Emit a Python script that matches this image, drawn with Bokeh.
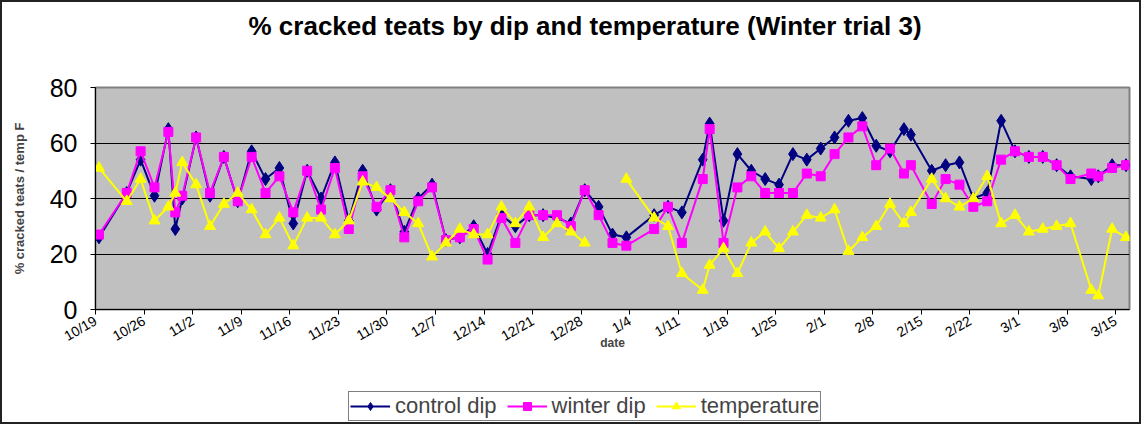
import math
import pandas as pd
from bokeh.plotting import figure
from bokeh.layouts import column
from bokeh.models import ColumnDataSource, Range1d, FixedTicker, Legend, LegendItem
from bokeh.embed import file_html
from bokeh.resources import INLINE

FONT = "Liberation Sans"

# ---- data ----
dates = ["10/19", "10/23", "10/25", "10/27", "10/29", "10/30", "10/31", "11/2", "11/4", "11/6",
         "11/8", "11/10", "11/12", "11/14", "11/16", "11/18", "11/20", "11/22", "11/24", "11/26",
         "11/28", "11/30", "12/2", "12/4", "12/6", "12/8", "12/10", "12/12", "12/14", "12/16",
         "12/18", "12/20", "12/22", "12/24", "12/26", "12/28", "12/30", "1/1", "1/3", "1/7",
         "1/9", "1/11", "1/14", "1/15", "1/17", "1/19", "1/21", "1/23", "1/25", "1/27",
         "1/29", "1/31", "2/2", "2/4", "2/6", "2/8", "2/10", "2/12", "2/13", "2/16",
         "2/18", "2/20", "2/22", "2/24", "2/26", "2/28", "3/2", "3/4", "3/6", "3/8",
         "3/11", "3/12", "3/14", "3/16"]

control_dip = [26, 42, 54, 41, 65, 29, 40, 62, 41, 55,
               39, 57, 47, 51, 31, 50, 40, 53, 32, 50,
               36, 43, 28, 40, 45, 25, 26, 30, 20, 34,
               30, 34, 34, 33, 31, 43, 37, 27, 26, 34,
               37, 35, 54, 67, 32, 56, 50, 47, 45, 56,
               54, 58, 62, 68, 69, 59, 57, 65, 63, 50,
               52, 53, 40, 42, 68, 57, 55, 55, 52, 48,
               47, 48, 52, 52]

winter_dip = [27, 42, 57, 44, 64, 35, 41, 62, 42, 55,
              39, 55, 42, 48, 35, 50, 36, 51, 29, 48,
              37, 43, 26, 39, 44, 25, 26, 29, 18, 33,
              24, 34, 34, 34, 30, 43, 34, 24, 23, 29,
              37, 24, 47, 65, 24, 44, 48, 42, 42, 42,
              49, 48, 56, 62, 66, 52, 58, 49, 52, 38,
              47, 45, 37, 39, 54, 57, 55, 55, 52, 47,
              49, 48, 51, 52]

NaN = float("nan")
temperature = [51, 39, 47, 32, 37, 42, 53, 45, 30, 38,
               42, 36, 27, 33, 23, 33, 33, 27, 32, 46,
               44, 40, 35, 31, 19, 24, 29, 27, 27, 37,
               31, 37, 26, 31, 28, 24, NaN, NaN, 47, 33,
               30, 13, 7, 16, 22, 13, 24, 28, 22, 28,
               34, 33, 36, 21, 26, 30, 38, 31, 35, 47,
               40, 37, 40, 48, 31, 34, 28, 29, 30, 31,
               7, 5, 29, 26]

tick_labels = ["10/19", "10/26", "11/2", "11/9", "11/16", "11/23", "11/30", "12/7", "12/14",
               "12/21", "12/28", "1/4", "1/11", "1/18", "1/25", "2/1", "2/8", "2/15", "2/22",
               "3/1", "3/8", "3/15"]
y_ticks = [0, 20, 40, 60, 80]

title_text = "% cracked teats by dip and temperature (Winter trial 3)"
series_names = ["control dip", "winter dip", "temperature"]
series_colors = ["#000080", "#FF00FF", "#FFFF00"]
series_markers = ["diamond", "square", "triangle"]
marker_sizes = [13, 9, 11]


def to_date(md):
    m, d = (int(v) for v in md.split("/"))
    return pd.Timestamp(2005 if m >= 10 else 2006, m, d)


start = to_date(dates[0])
# each day is a slot; points sit in the middle of their day slot
xpos = [(to_date(s) - start).days + 0.5 for s in dates]
tick_pos = [(to_date(s) - start).days for s in tick_labels]
last_day = (to_date(dates[-1]) - start).days + 1

src = ColumnDataSource(dict(x=xpos, c=control_dip, w=winter_dip, t=temperature))

W = 1137

# ---------------- title strip ----------------
pt = figure(width=W, height=49, x_range=Range1d(0, 1), y_range=Range1d(0, 1),
            x_axis_type=None, y_axis_type=None, output_backend="svg", toolbar_location=None,
            min_border=0, border_fill_color="white", background_fill_color="white")
pt.outline_line_color = None
pt.grid.visible = False
pt.title.text = title_text
pt.title.align = "left"
pt.title.offset = 153
pt.title.standoff = 12
pt.title.vertical_align = "bottom"
pt.title.text_font = FONT
pt.title.text_font_size = "26px"
pt.title.text_font_style = "bold"
pt.title.text_color = "black"

# ---------------- main chart ----------------
p = figure(width=W, height=309, x_range=Range1d(0, last_day), y_range=Range1d(0, 80),
           output_backend="svg", toolbar_location=None,
           min_border_left=93, min_border_right=10, min_border_top=36, min_border_bottom=51,
           background_fill_color="#C0C0C0", border_fill_color="white")
p.outline_line_color = "#808080"
p.outline_line_width = 2

p.xaxis.ticker = FixedTicker(ticks=tick_pos)
p.xaxis.major_label_overrides = {tp: lbl for tp, lbl in zip(tick_pos, tick_labels)}
p.xaxis.major_label_orientation = math.pi / 6
p.xaxis.major_label_text_font = FONT
p.xaxis.major_label_text_font_size = "14px"
p.xaxis.major_label_text_color = "black"
p.xaxis.major_tick_in = 0
p.xaxis.major_tick_out = 5
p.xaxis.minor_tick_line_color = None
p.xaxis.axis_line_color = "black"
p.xaxis.major_label_standoff = 5
p.xaxis.axis_label = "date"
p.xaxis.axis_label_text_font = FONT
p.xaxis.axis_label_text_font_size = "12px"
p.xaxis.axis_label_text_font_style = "bold"
p.xaxis.axis_label_standoff = -18

p.yaxis.ticker = FixedTicker(ticks=y_ticks)
p.yaxis.major_label_text_font = FONT
p.yaxis.major_label_text_font_size = "25px"
p.yaxis.major_label_text_color = "black"
p.yaxis.major_tick_in = 0
p.yaxis.major_tick_out = 5
p.yaxis.minor_tick_line_color = None
p.yaxis.axis_line_color = "black"
p.yaxis.major_label_standoff = 13
p.yaxis.axis_label = "% cracked teats / temp F"
p.yaxis.axis_label_text_font = FONT
p.yaxis.axis_label_text_font_size = "13px"
p.yaxis.axis_label_text_font_style = "bold"
p.yaxis.axis_label_standoff = 20

p.xgrid.visible = False
p.ygrid.ticker = FixedTicker(ticks=y_ticks)
p.ygrid.grid_line_color = "black"
p.ygrid.grid_line_width = 1

cols = ["c", "w", "t"]
for col, color, mk, ms in zip(cols, series_colors, series_markers, marker_sizes):
    p.line("x", col, source=src, line_color=color, line_width=2)
    p.scatter("x", col, source=src, marker=mk, size=ms, fill_color=color, line_color=color)

# ---------------- legend strip ----------------
pl = figure(width=W, height=62, x_range=Range1d(0, 1), y_range=Range1d(0, 1),
            x_axis_type=None, y_axis_type=None, output_backend="svg", toolbar_location=None,
            min_border=0, border_fill_color="white", background_fill_color="white")
pl.outline_line_color = None
pl.grid.visible = False
items = []
for name, color, mk, ms in zip(series_names, series_colors, series_markers, marker_sizes):
    # legend-only renderers: a single undefined (NaN) point, nothing is drawn in the frame
    lr = pl.line([NaN], [NaN], line_color=color, line_width=2)
    sr = pl.scatter([NaN], [NaN], marker=mk, size=ms - 2, fill_color=color, line_color=color)
    items.append(LegendItem(label=name, renderers=[lr, sr]))

legend = Legend(items=items, orientation="horizontal", location=(253, 1))
legend.border_line_color = "black"
legend.border_line_width = 1
legend.background_fill_color = "white"
legend.background_fill_alpha = 1
legend.label_text_font = FONT
legend.label_text_font_size = "22px"
legend.label_height = 20
legend.glyph_width = 40
legend.glyph_height = 20
legend.label_standoff = 5
legend.spacing = 10
legend.padding = 1
legend.margin = 0
pl.add_layout(legend)

layout = column(pt, p, pl, spacing=0, styles={"border": "2px solid #222222"})

open("out.html", "w").write(file_html(layout, INLINE))
